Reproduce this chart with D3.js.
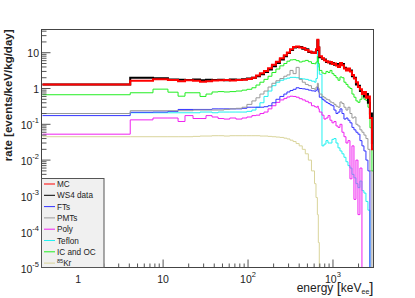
<!DOCTYPE html>
<html>
<head>
<meta charset="utf-8">
<script src="https://cdn.jsdelivr.net/npm/d3@7"></script>
<style>
  body { margin: 0; background: #fff; }
  svg { display: block; font-family: "Liberation Sans", Arial, Helvetica, sans-serif; }
</style>
</head>
<body>
<svg id="chart" width="415" height="298"></svg>
<script>
// bin edges (keV_ee), shared by every spectrum
const binEdges = [0.38, 4.1, 7.6, 11.4, 15, 18.1, 22.5, 27.2, 32, 37.7, 44.4, 52, 61, 72, 85, 97,
  111, 124, 138, 154, 172, 191, 213, 237, 264, 287, 312, 339, 368, 400, 435, 472, 513, 558,
  606, 631, 655, 672, 690, 742, 784, 827, 874, 922, 973, 1027, 1085, 1145, 1209, 1276, 1347,
  1422, 1501, 1585, 1673, 1766, 1864, 1968, 2077, 2193, 2315, 2444, 2580, 2723, 2875, 3000];

// rates in events/keV/kg/day, one value per bin
const mcRate = [1.29, 1.64, 1.82, 1.72, 1.6, 1.7, 1.65, 1.55, 1.6, 1.68, 1.7, 1.72, 1.68, 1.72, 1.75,
  1.85, 2.0, 2.3, 2.65, 3.1, 3.7, 4.6, 5.6, 7.0, 8.5, 10.2, 12.5, 14.5, 15, 14, 13.5, 12.0, 10.8,
  10.0, 9.8, 12.5, 23, 14, 8.0, 7.0, 6.2, 5.8, 5.3, 5.5, 4.8, 5.0, 4.4, 4.0, 5.2, 4.5, 3.6, 3.2,
  3.6, 3.0, 2.4, 1.9, 1.5, 1.1, 0.95, 0.7, 0.8, 0.55, 0.6, 0.15, 0.02];
const ws4Rate = [1.3, 2.0, 1.95, 1.78, 1.75, 1.72, 1.78, 1.7, 1.75, 1.72, 1.75, 1.7, 1.78, 1.75, 1.8,
  1.9, 2.0, 2.2, 2.5, 2.9, 3.4, 4.2, 5.2, 6.5, 8.0, 9.8, 12, 14, 14.5, 14.5, 13, 12.5, 10.5, 10.2,
  10, 12, 22, 14, 7.5, 6.8, 6.5, 5.5, 5.6, 5.0, 5.2, 4.6, 4.8, 4.2, 5.0, 4.8, 3.8, 3.5, 3.4, 3.2,
  2.2, 2.0, 1.3, 1.2, 0.85, 0.8, 0.6, 0.7, 0.4, 0.2, 0.03];
const ftsRate = [0.175, 0.217, 0.22, 0.23, 0.26, 0.26, 0.26, 0.26, 0.26, 0.27, 0.27, 0.27, 0.27,
  0.27, 0.28, 0.3, 0.3, 0.3, 0.3, 0.31, 0.33, 0.4, 0.5, 0.6, 0.7, 0.8, 0.88, 0.95, 1.05, 1.0, 0.98,
  0.95, 0.9, 0.86, 0.84, 0.9, 1.1, 0.8, 0.57, 0.5, 0.45, 0.41, 0.38, 0.35, 0.33, 0.25, 0.2, 0.22,
  0.27, 0.2, 0.14, 0.15, 0.13, 0.11, 0.082, 0.07, 0.06, 0.053, 0.035, 0.025, 0.018, 0.01, 0.005,
  0, 0];
const pmtRate = [0.2, 0.24, 0.24, 0.24, 0.24, 0.24, 0.25, 0.25, 0.25, 0.25, 0.25, 0.26, 0.27, 0.28,
  0.3, 0.36, 0.45, 0.55, 0.7, 0.85, 1.1, 1.4, 1.65, 1.9, 2.2, 2.4, 3.2, 2.6, 3.9, 1.8, 1.5, 1.3,
  1.2, 1.0, 0.95, 1.1, 1.4, 1.0, 0.7, 0.6, 0.55, 0.5, 0.48, 0.42, 0.4, 0.36, 0.32, 0.3, 0.42, 0.38,
  0.3, 0.25, 0.3, 0.2, 0.15, 0.16, 0.1, 0.09, 0.07, 0.06, 0.05, 0.04, 0.02, 0.005, 0];
const polyRate = [0.053, 0.133, 0.15, 0.15, 0.12, 0.175, 0.145, 0.145, 0.175, 0.16, 0.145, 0.14,
  0.15, 0.14, 0.15, 0.16, 0.175, 0.18, 0.2, 0.22, 0.27, 0.33, 0.41, 0.48, 0.53, 0.58, 0.61, 0.6,
  0.57, 0.52, 0.48, 0.44, 0.4, 0.33, 0.31, 0.3, 0.32, 0.27, 0.22, 0.18, 0.14, 0.15, 0.175, 0.13,
  0.11, 0.12, 0.09, 0.082, 0.1, 0.06, 0.045, 0.03, 0.035, 0.003, 0.025, 0.0008, 0.01, 0.0003,
  0.006, 0, 0, 0, 0, 0, 0];
const teflonRate = [0.2, 0.21, 0.21, 0.21, 0.21, 0.21, 0.21, 0.22, 0.22, 0.21, 0.22, 0.22, 0.22,
  0.22, 0.22, 0.23, 0.25, 0.3, 0.4, 0.6, 0.85, 1.2, 1.5, 1.7, 1.85, 1.95, 2.05, 2.05, 2.0, 1.9,
  1.85, 1.8, 1.7, 1.6, 1.5, 1.9, 12, 4, 2.5, 0.025, 0.028, 0.035, 0.03, 0.03, 0.038, 0.04, 0.03,
  0.022, 0.018, 0.015, 0.012, 0.009, 0.007, 0.006, 0.004, 0.0032, 0.0022, 0.0017, 0.0026, 0.0014,
  0.0012, 0.0007, 0.0004, 0, 0];
const icocRate = [0.67, 0.76, 0.96, 0.79, 0.61, 0.76, 0.76, 0.6, 0.7, 0.8, 0.82, 0.8, 0.82, 0.85,
  0.9, 0.95, 1.05, 1.25, 1.5, 1.8, 2.2, 2.8, 3.5, 4.3, 5.0, 5.8, 6.3, 6.4, 6.0, 5.5, 5.8, 6.1, 5.6,
  5.0, 4.9, 5.5, 7.8, 5.0, 3.2, 2.7, 2.6, 3.0, 2.8, 3.2, 2.6, 2.3, 2.0, 1.7, 2.1, 2.0, 1.5, 1.3,
  1.1, 1.0, 0.7, 0.57, 0.45, 0.41, 0.5, 0.71, 0.5, 0.46, 0.3, 0.08, 0.005];
const kr85Rate = [0.045, 0.045, 0.045, 0.045, 0.045, 0.045, 0.046, 0.047, 0.047, 0.048, 0.048,
  0.047, 0.048, 0.048, 0.048, 0.048, 0.048, 0.048, 0.047, 0.047, 0.046, 0.045, 0.044, 0.043,
  0.041, 0.039, 0.036, 0.033, 0.029, 0.025, 0.02, 0.015, 0.01, 0.005, 0.0022, 0.0009, 0.0003,
  0.00005, 0, 0, 0, 0, 0, 0, 0, 0, 0, 0, 0, 0, 0, 0, 0, 0, 0, 0, 0, 0, 0, 0, 0, 0, 0, 0, 0];

const legendNames = ['MC', 'WS4 data', 'FTs', 'PMTs', 'Poly', 'Teflon', 'IC and OC', 'Kr'];
const xTickValues = [1, 10, 100, 1000];
const xTickLabels = [['1', ''], ['10', ''], ['10', '2'], ['10', '3']];
const yTickValues = [1e-5, 1e-4, 1e-3, 1e-2, 1e-1, 1, 10];
const yTickLabels = [['10', '-5'], ['10', '-4'], ['10', '-3'], ['10', '-2'], ['10', '-1'], ['1', ''], ['10', '']];

const frame = { left: 41.5, right: 373.5, top: 29.5, bottom: 267.5 };
const svg = d3.select('#chart');

const x = d3.scaleLog().domain([0.37, 3000]).range([frame.left, frame.right]);
const y = d3.scaleLog().domain([1e-5, 44.5]).range([frame.bottom, frame.top]);

// drawing order: back to front
const series = [
  { name: 'Kr', values: kr85Rate, color: '#d9d49b', width: 1 },
  { name: 'Teflon', values: teflonRate, color: '#22f0f0', width: 1 },
  { name: 'Poly', values: polyRate, color: '#f020f0', width: 1 },
  { name: 'FTs', values: ftsRate, color: '#3333ff', width: 1 },
  { name: 'PMTs', values: pmtRate, color: '#999999', width: 1 },
  { name: 'IC and OC', values: icocRate, color: '#22ee22', width: 1 },
  { name: 'WS4 data', values: ws4Rate, color: '#000000', width: 2 },
  { name: 'MC', values: mcRate, color: '#ff0000', width: 2 }
];

svg.append('defs').append('clipPath').attr('id', 'plotClip')
  .append('rect')
  .attr('x', frame.left).attr('y', frame.top)
  .attr('width', frame.right - frame.left).attr('height', frame.bottom - frame.top);

const yFloor = y.domain()[0];
const step = d3.line()
  .x((d) => x(d[0]))
  .y((d) => y(Math.max(d[1], yFloor)))
  .curve(d3.curveStepAfter);

const plot = svg.append('g').attr('clip-path', 'url(#plotClip)');
series.forEach((s) => {
  const pts = binEdges.map((e, i) => [e, s.values[Math.min(i, s.values.length - 1)]]);
  plot.append('path')
    .attr('d', step(pts))
    .attr('fill', 'none')
    .attr('stroke', s.color)
    .attr('stroke-width', s.width);
});

// ticks (ROOT style, inside the frame on left and bottom)
const axisColor = '#555';
const decadeSteps = d3.range(1, 10);

function logTicks(domain) {
  const out = [];
  const lo = Math.floor(Math.log10(domain[0]));
  const hi = Math.ceil(Math.log10(domain[1]));
  for (let k = lo; k <= hi; k++) {
    decadeSteps.forEach((m) => {
      const v = m * Math.pow(10, k);
      if (v >= domain[0] && v <= domain[1]) out.push({ v, major: m === 1 });
    });
  }
  return out;
}

const axes = svg.append('g');
logTicks(x.domain()).forEach((t) => {
  const px = x(t.v);
  axes.append('line')
    .attr('x1', px).attr('x2', px)
    .attr('y1', frame.bottom).attr('y2', frame.bottom - (t.major ? 8 : 4))
    .attr('stroke', axisColor);
});
logTicks(y.domain()).forEach((t) => {
  const py = y(t.v);
  axes.append('line')
    .attr('x1', frame.left).attr('x2', frame.left + (t.major ? 9 : 5))
    .attr('y1', py).attr('y2', py)
    .attr('stroke', axisColor);
});

axes.append('rect')
  .attr('x', frame.left).attr('y', frame.top)
  .attr('width', frame.right - frame.left).attr('height', frame.bottom - frame.top)
  .attr('fill', 'none').attr('stroke', '#444');

// tick labels
const labelSize = 10.5;
xTickValues.forEach((v, i) => {
  const [base, exp] = xTickLabels[i];
  const t = svg.append('text')
    .attr('x', x(v)).attr('y', frame.bottom + 15.5)
    .attr('text-anchor', 'middle')
    .attr('font-size', labelSize).attr('fill', '#222');
  t.append('tspan').text(base);
  if (exp) t.append('tspan').attr('dy', -6).attr('font-size', 7.5).text(exp);
});
yTickValues.forEach((v, i) => {
  const [base, exp] = yTickLabels[i];
  const t = svg.append('text')
    .attr('x', frame.left - 2.5).attr('y', y(v) + (exp ? 5 : 4))
    .attr('text-anchor', 'end')
    .attr('font-size', labelSize).attr('fill', '#222');
  t.append('tspan').text(base);
  if (exp) t.append('tspan').attr('dy', -6).attr('font-size', 7.5).text(exp);
});

// axis titles
svg.append('text')
  .attr('transform', `translate(12,${frame.top}) rotate(-90)`)
  .attr('text-anchor', 'end')
  .attr('font-size', 11.5).attr('font-weight', 'bold').attr('fill', '#222')
  .text('rate [events/keV/kg/day]');

const xt = svg.append('text')
  .attr('x', frame.right).attr('y', 292)
  .attr('text-anchor', 'end')
  .attr('font-size', 12).attr('fill', '#222');
xt.append('tspan').text('energy ');
xt.append('tspan').attr('font-size', 15).attr('dy', 1).text('[');
xt.append('tspan').attr('dy', -1).text('keV');
xt.append('tspan').attr('font-size', 7).attr('dy', 1.5).text('ee');
xt.append('tspan').attr('font-size', 15).attr('dy', -0.5).text(']');

// legend
const legend = svg.append('g');
legend.append('rect')
  .attr('x', frame.left).attr('y', 178.5)
  .attr('width', 62.5).attr('height', frame.bottom - 178.5)
  .attr('fill', '#f0f0f0').attr('stroke', '#555');

const legendColor = new Map(series.map((s) => [s.name, s.color]));
legendNames.forEach((name, i) => {
  const ly = 184 + i * 11.3;
  legend.append('line')
    .attr('x1', 44).attr('x2', 55)
    .attr('y1', ly).attr('y2', ly)
    .attr('stroke', legendColor.get(name)).attr('stroke-width', 1);
  const t = legend.append('text')
    .attr('x', 57).attr('y', ly + 3)
    .attr('font-size', 8.2).attr('fill', '#222');
  if (name === 'Kr') {
    t.append('tspan').attr('font-size', 5.5).attr('dy', -3).text('85');
    t.append('tspan').attr('dy', 3).text('Kr');
  } else {
    t.text(name);
  }
});
</script>
</body>
</html>
